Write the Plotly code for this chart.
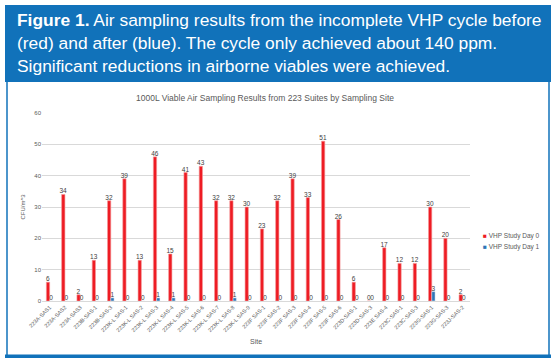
import plotly.graph_objects as go

sites = [
    "223A-SAS1", "223A-SAS2", "223A-SAS3", "223B-SAS-1", "223B-SAS-3",
    "223K-L SAS-1", "223K-L SAS-2", "223K-L SAS-3", "223K-L SAS-4", "223K-L SAS-5",
    "223K-L SAS-6", "223K-L SAS-7", "223K-L SAS-8", "223K-L SAS-9",
    "223F SAS-1", "223F SAS-2", "223F SAS-3", "223F SAS-4", "223F SAS-5", "223F SAS-6",
    "223D-SAS-1", "223D-SAS-3", "223E SAS-4", "223C-SAS-1", "223C-SAS-3",
    "223G-SAS-1", "223G-SAS-3", "223J-SAS-2",
]
day0 = [6, 34, 2, 13, 32, 39, 13, 46, 15, 41, 43, 32, 32, 30, 23, 32, 39, 33, 51, 26,
        6, 0, 17, 12, 12, 30, 20, 2]
day1 = [0, 0, 0, 0, 1, 0, 0, 1, 1, 0, 0, 0, 1, 0, 0, 0, 0, 0, 0, 0,
        0, 0, 0, 0, 0, 3, 0, 0]
series_names = ["VHP Study Day 0", "VHP Study Day 1"]
y_ticks = [0, 10, 20, 30, 40, 50, 60]

W, H = 556, 363
ML, MR, MT, MB = 42, 86, 113, 62
PW, PH = W - ML - MR, H - MT - MB

def px(x):
    return (x - ML) / PW

def py(y):
    return 1 - (y - MT) / PH

RED = "#EE1C24"
BLUE = "#2E75B6"
BANNER = "#1172BA"
GREY = "#595959"
FONT = "Liberation Sans"

fig = go.Figure()
fig.add_bar(x=sites, y=day0, name=series_names[0],
            marker=dict(color=RED, line=dict(color="#F49A9A", width=0.6)),
            text=day0, textposition="outside", constraintext="none",
            textfont=dict(size=6.5, color="#404040", family=FONT),
            cliponaxis=False, showlegend=False)
fig.add_bar(x=sites, y=day1, name=series_names[1],
            marker=dict(color=BLUE),
            text=day1, textposition="outside", constraintext="none",
            textfont=dict(size=6.5, color="#404040", family=FONT),
            cliponaxis=False, showlegend=False)

shapes = [
    dict(type="rect", xref="paper", yref="paper", x0=px(5), x1=px(551), y0=py(82), y1=py(5),
         fillcolor=BANNER, line=dict(width=0), layer="below"),
    dict(type="line", xref="paper", yref="paper", x0=px(7), x1=px(7), y0=py(82), y1=py(356),
         line=dict(color=BANNER, width=1.5)),
    dict(type="line", xref="paper", yref="paper", x0=px(549), x1=px(549), y0=py(82), y1=py(356),
         line=dict(color=BANNER, width=1.5)),
    dict(type="rect", xref="paper", yref="paper", x0=px(5), x1=px(551), y0=py(358), y1=py(354.5),
         fillcolor=BANNER, line=dict(width=0)),
]

banner_lines = [
    "<b>Figure 1.</b> Air sampling results from the incomplete VHP cycle before",
    "(red) and after (blue). The cycle only achieved about 140 ppm.",
    "Significant reductions in airborne viables were achieved.",
]
annotations = []
for i, line in enumerate(banner_lines):
    annotations.append(dict(text=line, xref="paper", yref="paper", x=px(15), y=py(19.5 + 23.3 * i),
                            xanchor="left", yanchor="middle", showarrow=False,
                            font=dict(family=FONT, size=17.4, color="white")))

annotations.append(dict(text="1000L Viable Air Sampling Results from 223 Suites by Sampling Site",
                        xref="paper", yref="paper", x=px(265), y=py(98), xanchor="center",
                        yanchor="middle", showarrow=False,
                        font=dict(family=FONT, size=8.5, color=GREY)))

for i, (nm, col) in enumerate(zip(series_names, [RED, BLUE])):
    annotations.append(dict(text=f"<span style='color:{col}'>■</span> {nm}",
                            xref="paper", yref="paper", x=px(481), y=py(236 + 11 * i),
                            xanchor="left", yanchor="middle", showarrow=False,
                            font=dict(family=FONT, size=6.5, color=GREY)))

fig.update_layout(
    width=W, height=H, autosize=False,
    margin=dict(l=ML, r=MR, t=MT, b=MB),
    paper_bgcolor="white", plot_bgcolor="white",
    barmode="group", bargap=0.57, bargroupgap=0,
    shapes=shapes, annotations=annotations,
    font=dict(family=FONT, color=GREY),
    hovermode=False,
)
fig.update_yaxes(range=[0, 60], tickvals=y_ticks, showgrid=True, gridcolor="#D9D9D9",
                 gridwidth=1, zeroline=False, showline=False, ticks="", automargin=False,
                 tickfont=dict(size=6, color=GREY, family=FONT),
                 title=dict(text="CFU/m^3", font=dict(size=6, color=GREY, family=FONT), standoff=8))
fig.update_xaxes(tickangle=-45, showline=True, linecolor="#D9D9D9", linewidth=1, showgrid=False,
                 ticks="", automargin=False, tickfont=dict(size=5.5, color=GREY, family=FONT),
                 title=dict(text="Site", font=dict(size=7, color=GREY, family=FONT), standoff=6))

fig.write_html("out.html", config={"displayModeBar": False},
               post_script="document.body.style.margin='0';document.body.style.overflow='hidden';")
